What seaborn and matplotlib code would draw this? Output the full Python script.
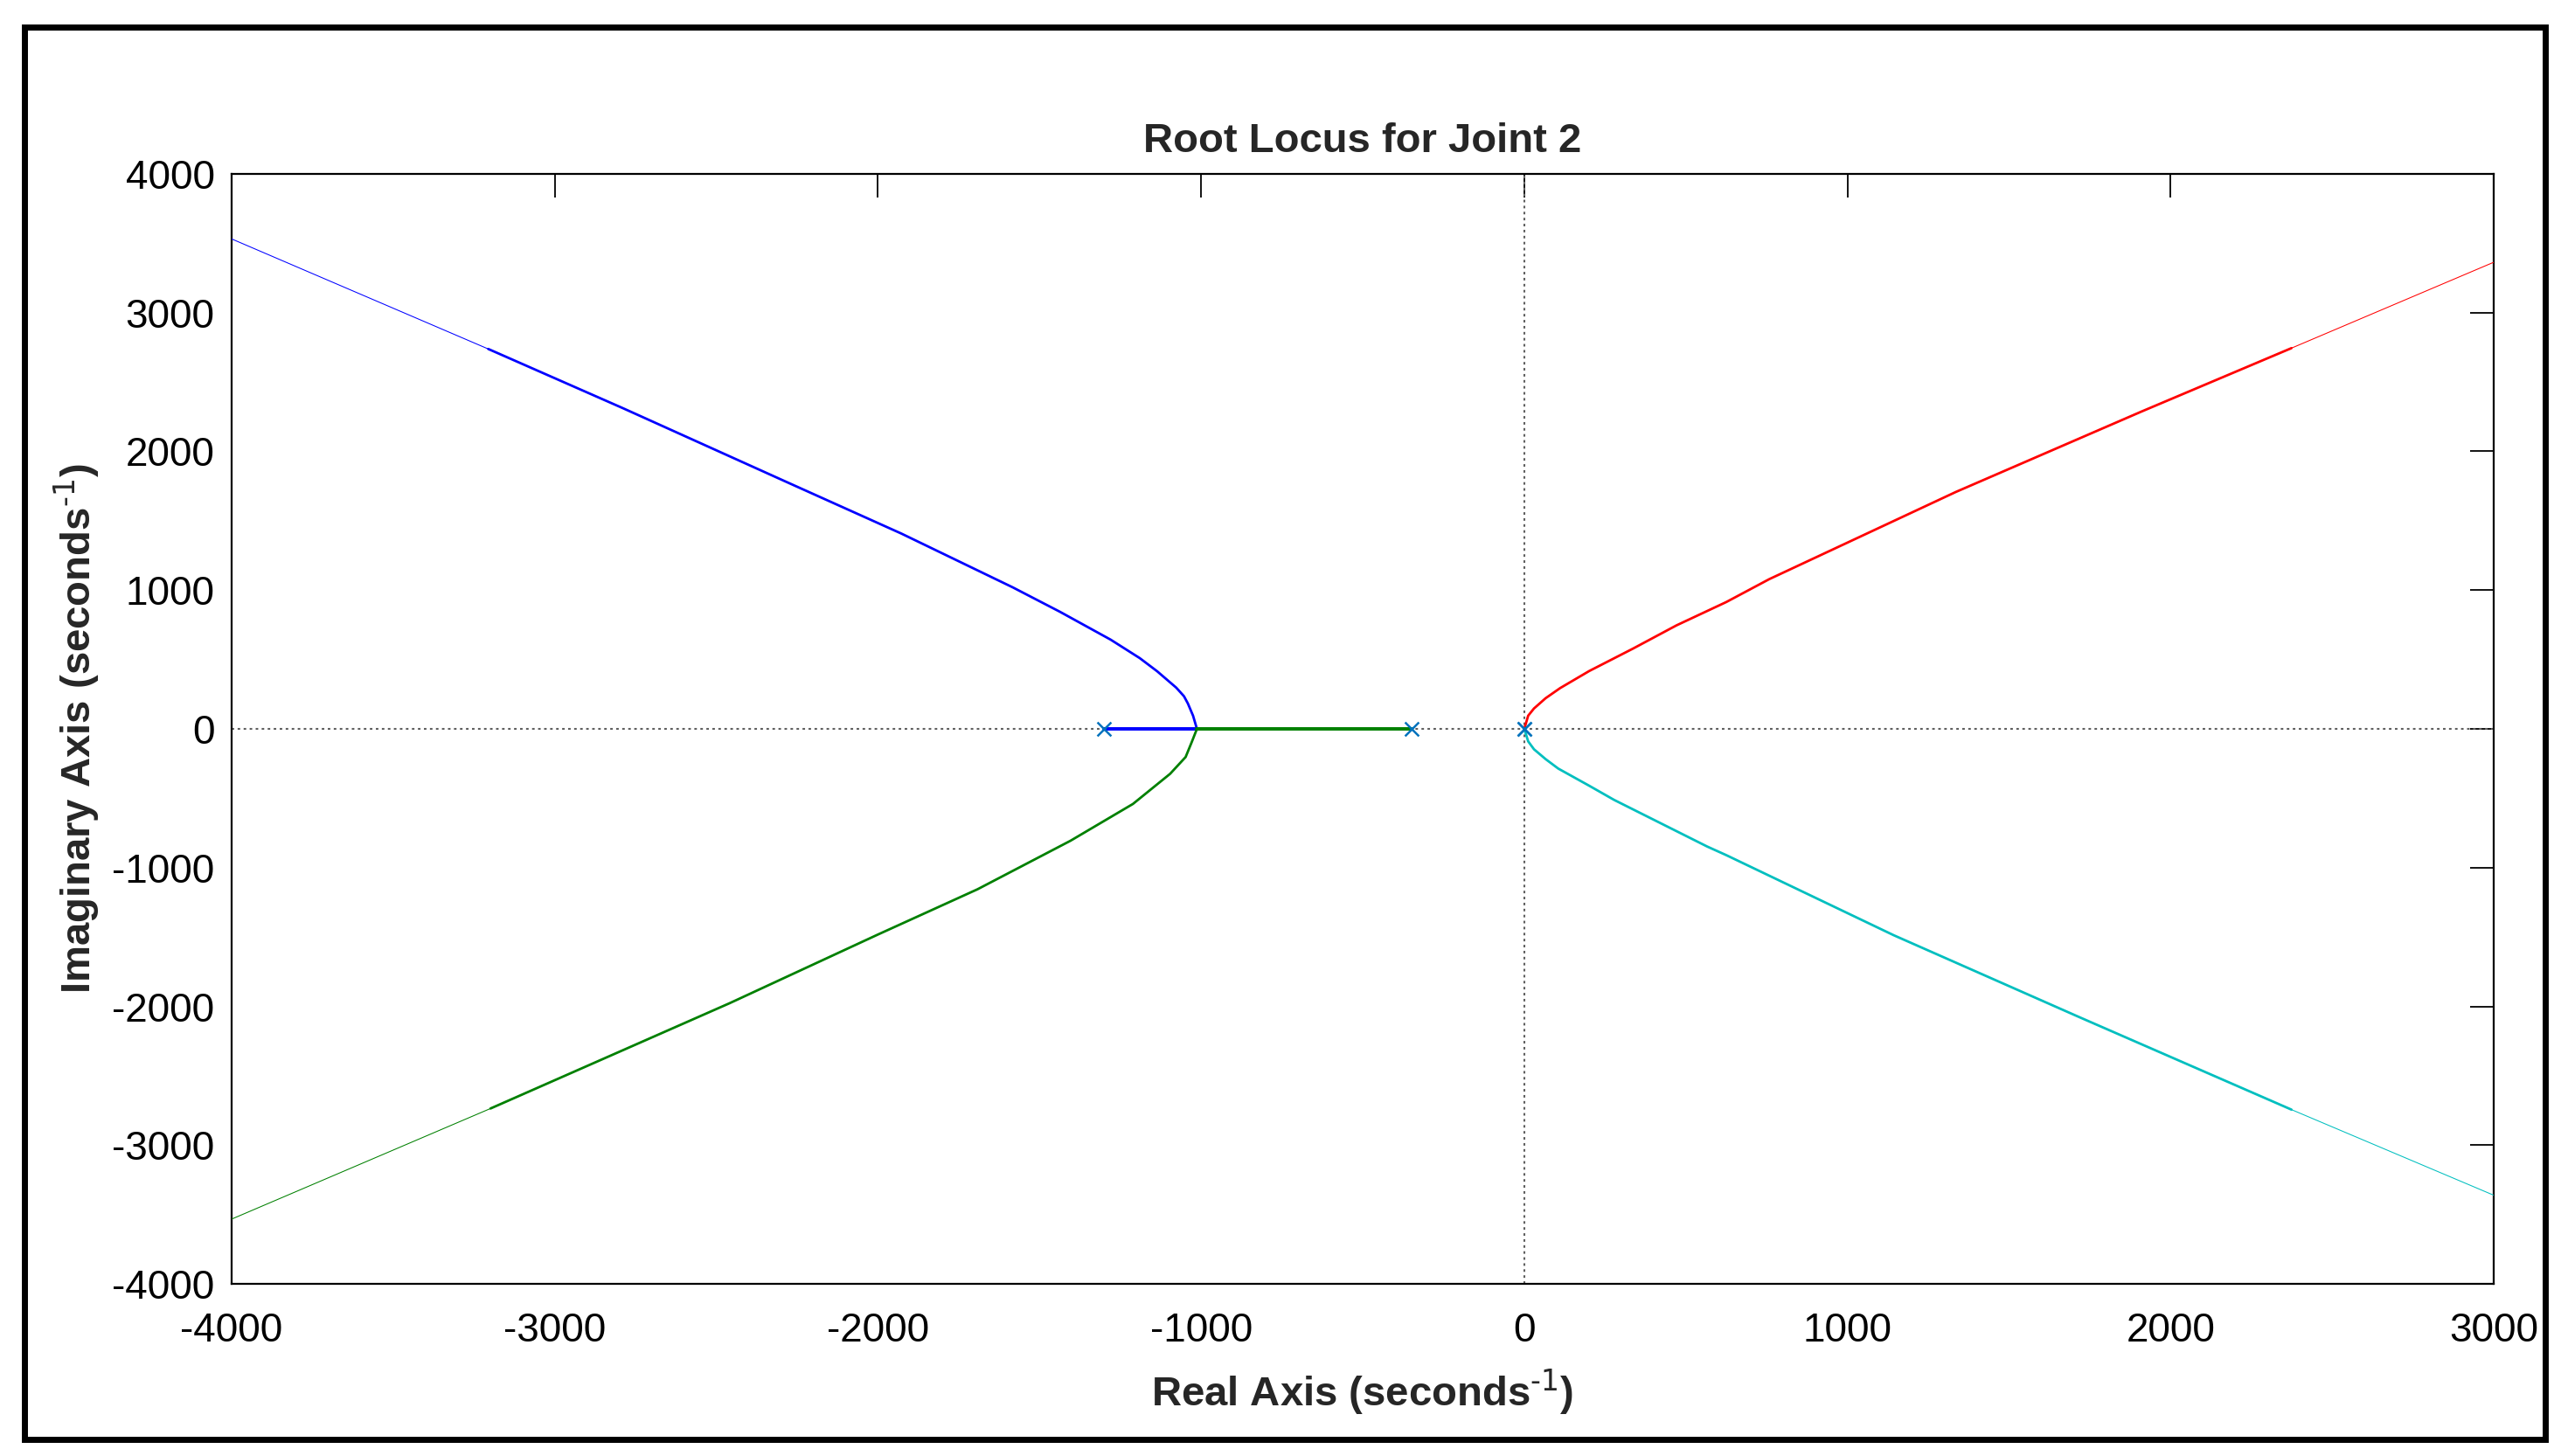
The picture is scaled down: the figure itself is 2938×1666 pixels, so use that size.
"""Root locus plot for joint 2, redrawn with seaborn."""

import matplotlib
matplotlib.use("Agg")
import matplotlib.pyplot as plt
import matplotlib.patches as patches
import pandas as pd
import seaborn as sns


# --- values (seconds^-1) ---
pole_re = [-1300, -350, 0, 0]
pole_im = [0, 0, 0, 0]

blue_re = [-1300, -1013, -1025, -1041, -1053, -1077, -1136, -1190, -1280,
           -1437, -1583, -1928, -2272, -2790, -3206, -4000]
blue_im = [0, 0, 95, 183, 235, 297, 415, 510, 643,
           844, 1020, 1408, 1768, 2312, 2738, 3531]

green_re = [-350, -1013, -1029, -1048, -1096, -1211, -1404, -1692, -2000,
            -2459, -3199, -4000]
green_im = [0, 0, -95, -203, -324, -541, -806, -1156, -1482,
            -1977, -2736, -3533]

red_re = [0, 12, 30, 66, 111, 201, 336, 471, 625, 758, 1335, 1912, 2374, 3005]
red_im = [0, 95, 147, 221, 294, 417, 578, 746, 914, 1079, 1707, 2289, 2744, 3368]

cyan_re = [0, 12, 30, 66, 105, 201, 278, 566, 625, 1143, 1720, 2374, 3005]
cyan_im = [0, -90, -147, -218, -286, -410, -512, -848, -910, -1487, -2080, -2744, -3366]

x_ticks = [-4000, -3000, -2000, -1000, 0, 1000, 2000, 3000]
y_ticks = [-4000, -3000, -2000, -1000, 0, 1000, 2000, 3000, 4000]

# beyond this |Im| the reference draws the branches with a hairline
THIN_FROM = 2730


def draw_branch(ax, re, im, color):
    df = pd.DataFrame({"re": re, "im": im})
    far = df["im"].abs() >= THIN_FROM
    k = far.idxmax() if far.any() else len(df) - 1
    near_df = df.iloc[:k + 1]
    far_df = df.iloc[k:]
    sns.lineplot(data=near_df, x="re", y="im", sort=False, estimator=None,
                 color=color, lw=2.0, ax=ax, zorder=3)
    if len(far_df) > 1:
        sns.lineplot(data=far_df, x="re", y="im", sort=False, estimator=None,
                     color=color, lw=0.75, ax=ax, zorder=3)

    # the stretch along the real axis is drawn heavier
    on_axis = df[df["im"] == 0]
    if len(on_axis) > 1:
        sns.lineplot(data=on_axis, x="re", y="im", sort=False, estimator=None,
                     color=color, lw=2.8, ax=ax, zorder=3)


sns.set_style("white")
plt.rcParams["font.family"] = ["Liberation Sans", "DejaVu Sans"]
plt.rcParams["mathtext.default"] = "regular"
plt.rcParams["axes.unicode_minus"] = False

fig = plt.figure(figsize=(29.38, 16.66), dpi=100)
ax = fig.add_axes([0.0902, 0.1182, 0.8809, 0.7624])

# dotted zero lines
ax.axhline(0, color="#5f5f5f", lw=1.5, ls=(0, (1.4, 1.9)), zorder=1)
ax.axvline(0, color="#5f5f5f", lw=1.5, ls=(0, (1.4, 1.9)), zorder=1)

draw_branch(ax, blue_re, blue_im, "#0000ff")
draw_branch(ax, green_re, green_im, "#008000")
draw_branch(ax, red_re, red_im, "#ff0000")
draw_branch(ax, cyan_re, cyan_im, "#00bfbf")

sns.scatterplot(x=pole_re, y=pole_im, marker="x", s=130, color="#0072BD",
                linewidth=1.8, zorder=5, ax=ax)

ax.set_xlim(-4000, 3000)
ax.set_ylim(-4000, 4000)
ax.set_xticks(x_ticks)
ax.set_yticks(y_ticks)

ax.tick_params(axis="both", direction="in", top=True, right=True,
               length=19.5, width=1.3, labelsize=33, colors="black")
ax.tick_params(axis="x", pad=23)
ax.tick_params(axis="y", pad=14)

for side in ["top", "right", "bottom", "left"]:
    ax.spines[side].set_visible(True)
    ax.spines[side].set_color("black")
    ax.spines[side].set_linewidth(1.6)

ax.set_title("Root Locus for Joint 2", fontsize=34, fontweight="bold", pad=18)
ax.set_xlabel(r"Real Axis (seconds$^{\text{-1}}$)", fontsize=34, fontweight="bold",
              labelpad=14)
ax.set_ylabel(r"Imaginary Axis (seconds$^{\text{-1}}$)", fontsize=34, fontweight="bold",
              labelpad=8)

# outer frame round the whole figure
frame = patches.Rectangle((0.0097, 0.0117), 0.9813, 0.9694, transform=fig.transFigure,
                          fill=False, edgecolor="black", lw=5, zorder=10)
fig.patches.append(frame)

fig.savefig("out.png", dpi=100, facecolor="white")
